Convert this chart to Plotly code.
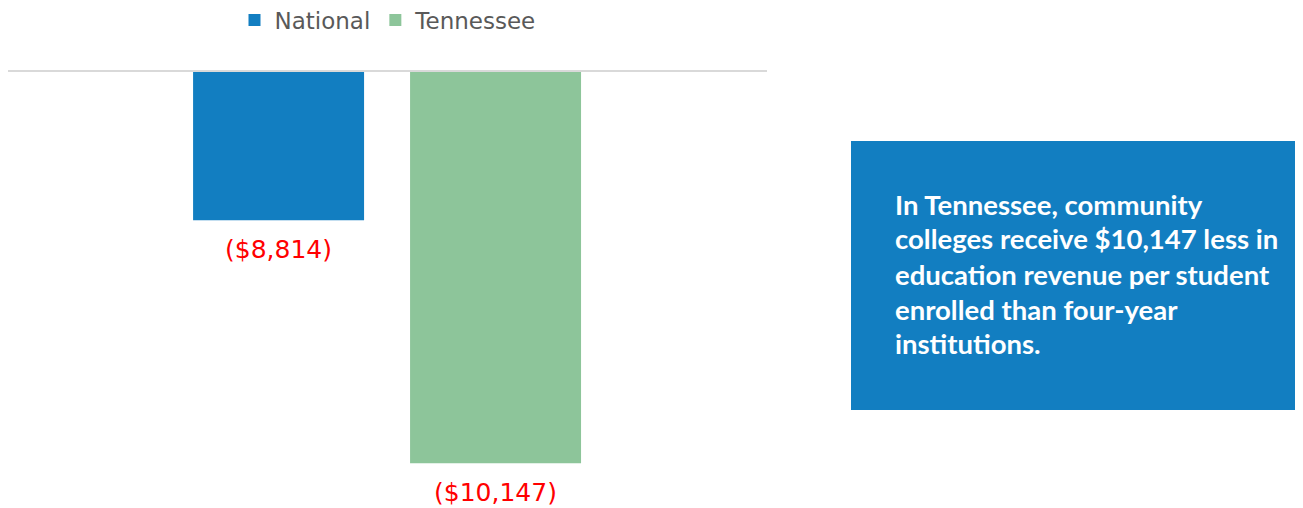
import plotly.graph_objects as go

categories = ["National", "Tennessee"]
values = [-8814, -10147]
labels = ["($8,814)", "($10,147)"]
colors = ["#127EC1", "#8DC59A"]
callout_lines = ["In Tennessee, community",
                 "colleges receive $10,147 less in",
                 "education revenue per student",
                 "enrolled than four-year",
                 "institutions."]

W, H = 1303, 508
O = 8  # page offset of the figure inside the browser window

def px(x):
    return (x - O) / W

def py(y):
    return (H - (y - O)) / H

fig = go.Figure()
for c, v, col in zip(categories, values, colors):
    fig.add_trace(go.Bar(x=[c], y=[v], name=c, marker=dict(color=col, line=dict(width=0)),
                         hoverinfo="skip"))

for c, v, t in zip(categories, values, labels):
    fig.add_annotation(x=c, y=v, text=t, showarrow=False, xref="x", yref="y",
                       yanchor="middle", yshift=-29,
                       font=dict(family="DejaVu Sans", size=25, color="#FF0000"))

# callout box
fig.add_shape(type="rect", xref="paper", yref="paper",
              x0=px(851), x1=px(1295), y0=py(410), y1=py(141),
              fillcolor="#127EC1", line=dict(width=0), layer="below")
for i, line in enumerate(callout_lines):
    fig.add_annotation(xref="paper", yref="paper", x=px(893), y=py(204 + 35 * i),
                       xanchor="left", yanchor="middle", align="left", showarrow=False,
                       text="<b>" + line + "</b>",
                       font=dict(family="Lato", size=27.5, color="#FFFFFF"))

fig.update_layout(
    width=W, height=H,
    margin=dict(l=0, r=0, t=0, b=0, autoexpand=False),
    paper_bgcolor="white", plot_bgcolor="white",
    barmode="overlay", bargap=0.212,
    showlegend=True,
    legend=dict(orientation="h", x=px(388), xanchor="center", y=py(20), yanchor="middle",
                font=dict(family="DejaVu Sans", size=23, color="#595959"),
                itemwidth=30, traceorder="normal"),
    xaxis=dict(domain=[px(8), px(767)], range=[-1.247, 2.251], showticklabels=False,
               showgrid=False, zeroline=False, showline=True, side="top",
               linecolor="#D9D9D9", linewidth=2, ticks=""),
    yaxis=dict(domain=[py(508), py(72)], range=[-10392, -8000], showticklabels=False,
               showgrid=False, zeroline=False, showline=False),
)

fig.write_html("out.html")
